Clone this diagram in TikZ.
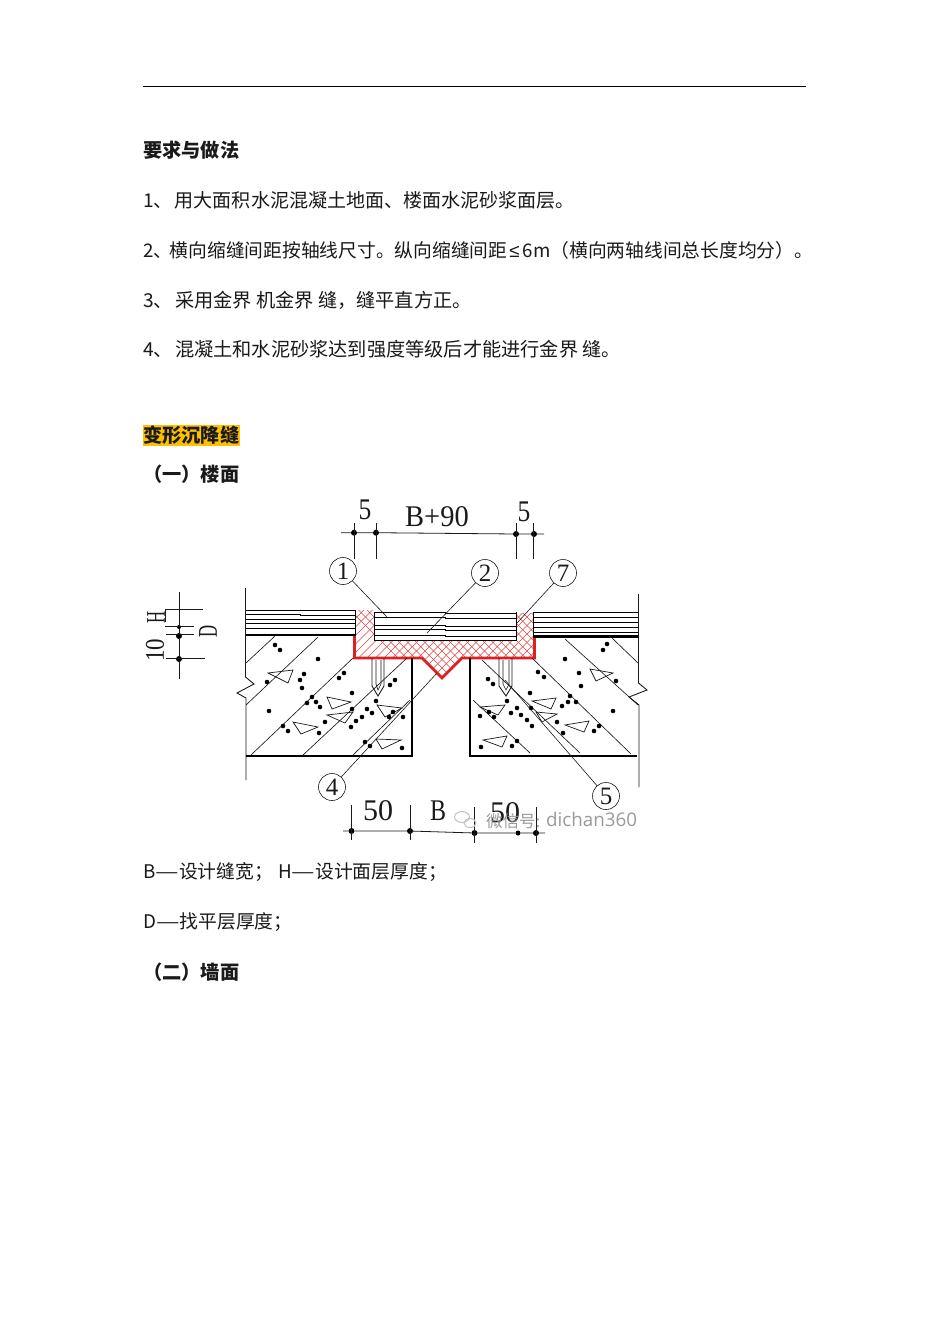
\documentclass[tikz,border=0pt]{standalone}
\usepackage{fontspec}
\setmainfont{Liberation Serif}
\newfontfamily\cjk{Noto Sans CJK SC}
\newfontfamily\lsans{Liberation Sans}
\newfontfamily\osans{Open Sans}
\definecolor{hl}{HTML}{FFC000}
\definecolor{ink}{HTML}{1A1A1A}
\definecolor{redl}{HTML}{E02020}
\definecolor{wm}{HTML}{9A9A9A}
\tikzset{
 txt/.style={anchor=west,inner sep=0pt,font=\cjk\fontsize{19.2}{22}\selectfont,text=ink},
 head/.style={anchor=west,inner sep=0pt,font=\cjk\bfseries\fontsize{19.2}{22}\selectfont,text=ink},
 lab/.style={inner sep=0pt,font=\fontsize{30}{30}\selectfont,text=ink},
 labr/.style={inner sep=0pt,font=\fontsize{27}{27}\selectfont,text=ink,rotate=90},
 num/.style={circle,draw=ink,line width=0.6pt,minimum size=27pt,inner sep=0pt,font=\fontsize{25}{25}\selectfont,text=ink},
 thin/.style={draw=ink,line width=0.65pt},
 thick2/.style={draw=black,line width=2.4pt},
 tri/.style={draw=ink,line width=0.7pt},
 tick/.style={circle,fill=black,inner sep=0pt,minimum size=6pt},
 lead/.style={draw=ink,line width=0.6pt},
 dimln/.style={draw=ink,line width=0.8pt},
}
\newcommand{\blobs}[1]{\foreach \a/\b in {#1} \fill[black] (\a,\b) circle (2.3);}
\newcommand{\ldash}{\scalebox{1.4}[1]{—}}
\begin{document}
\begin{tikzpicture}[x=1pt,y=-1pt]
\useasboundingbox (0,0) rectangle (950,1344);
\fill[white] (0,0) rectangle (950,1344);
% top rule
\coordinate (ruleL) at (143,86); \coordinate (ruleR) at (806,86);
\draw[black,line width=1pt] (ruleL) -- (ruleR);
% texts
\node[head] (t0) at (143,150) {要求与做法};
\node[txt,font=\cjk\fontsize{19.05}{22}\selectfont] (t1) at (143,200) {1、\kern2pt 用大面积水泥混凝土地面、楼面水泥砂浆面层。};
\node[txt,font=\cjk\fontsize{18.75}{22}\selectfont] (t2) at (143,250) {2、\kern-2.4pt 横向缩缝间距按轴线尺寸。纵向缩缝间距\kern2pt{\lsans ≤}\kern3pt 6m（横向两轴线间总长度均分）。};
\node[txt] (t3) at (143,300) {3、\kern2pt 采用金界 机金界 缝，缝平直方正。};
\node[txt] (t4) at (143,349) {4、\kern2pt 混凝土和水泥砂浆达到强度等级后才能进行金界 缝。};
\fill[hl] (143,425) rectangle (240,446);
\node[head] (t5) at (143,435) {变形沉降缝};
\node[head] (t6) at (143,474) {（一）楼面};
\node[txt,font=\cjk\fontsize{18.8}{22}\selectfont] (t7) at (143,872) {B\ldash 设计缝宽；\kern5pt H\ldash 设计面层厚度；};
\node[txt,font=\cjk\fontsize{18.8}{22}\selectfont] (t8) at (143,922) {D\ldash 找平层厚度；};
\node[head] (t9) at (143,972) {（二）墙面};

% hatch
\begin{scope}
\clip (356,610) -- (374,610) -- (374,640) -- (516,640) -- (516,613) -- (533,613) -- (533,636) -- (535,658) -- (462,658) -- (442,678) -- (422,658) -- (354,658) -- (354,635) -- (356,635) -- cycle;
\foreach \k in {0,...,30} {
 \draw[redl!85,line width=0.55pt] (340+\k*8.5,600) -- ++(90,90);
 \draw[redl!85,line width=0.55pt] (340+\k*8.5,600) -- ++(-90,90);
}
\end{scope}
% red outline
\draw[redl,line width=2.6pt,line join=miter] (354.5,636) -- (354.5,658) -- (422,658) -- (442,678) -- (462,658) -- (534.5,658) -- (534.5,637);

% layers
\foreach \y in {610,614.5,619,623,628} \draw[black,line width=0.8pt] (246,\y) -- (300,\y) -- (300,\y+0.8) -- (355,\y+0.8);
\draw[thick2] (246,635) -- (355,635);
\foreach \y in {612,617,622,627,632} \draw[black,line width=0.8pt] (533,\y) -- (586,\y) -- (586,\y+0.8) -- (638,\y+0.8);
\draw[thick2] (533,636.5) -- (638,636.5);
\foreach \y in {612,617,625,629,635} \draw[black,line width=0.8pt] (374,\y) -- (445,\y) -- (445,\y+1) -- (516,\y+1);
\draw[black,line width=0.9pt] (374,612) -- (374,640) -- (516,640) -- (516,612);
\draw[black,line width=0.9pt] (355,610) -- (355,636);
\draw[black,line width=0.9pt] (533,612) -- (533,637);

% outer walls with break
\draw[ink,line width=0.9pt] (245.5,588) -- (245.5,677) -- (254,684) -- (237,693) -- (246,698) -- (246,780);
\draw[ink,line width=0.9pt] (638.5,594) -- (638.5,683) -- (647,690) -- (629,697) -- (639,705) -- (639,787);
% blocks
\draw[black,line width=2pt] (246,756) -- (412,756) -- (412,658);
\draw[black,line width=2pt] (470,658) -- (470,756) -- (637,756);

% concrete hatch left
\draw[thin] (275,636) -- (246,663);
\draw[thin] (318,637) -- (246,705);
\draw[thin] (353,658) -- (251,755);
\draw[thin] (407,658) -- (303,755);
\draw[thin] (410,700) -- (353,755);
% right
\draw[thin] (473,700) -- (530,753);
\draw[thin] (482,660) -- (580,753);
\draw[thin] (532,658) -- (631,754);
\draw[thin] (565,639) -- (638,705);
\draw[thin] (612,638) -- (638,663);

% anchors
\draw[thin,line width=0.9pt] (372,658) -- (372,686) -- (378,696) -- (384,686) -- (384,658);
\draw[thin] (376,660) -- (376,684) -- (378,690) -- (381,684) -- (381,660);
\draw[thin,line width=0.9pt] (499,658) -- (499,686) -- (506,696) -- (512,686) -- (512,658);
\draw[thin] (503,660) -- (503,684) -- (506,690) -- (509,684) -- (509,660);

% triangles
\foreach \p/\q/\r in {{268,673}/{293,670}/{288,683},{327,697}/{351,702}/{332,709},{327,715}/{353,712}/{345,723},{293,722}/{318,727}/{301,734},{377,705}/{402,708}/{385,717},{376,739}/{401,740}/{382,749},{590,669}/{613,673}/{596,681},{532,701}/{556,698}/{551,709},{536,712}/{557,714}/{542,722},{565,725}/{589,721}/{584,732},{483,740}/{507,736}/{502,747},{480,707}/{505,705}/{498,715}}
 \draw[tri] (\p) -- (\q) -- (\r) -- cycle;

% dots
\blobs{275/645,280/650,318/659,267/682,304/674,300/680,302/688,344/673,339/678,352/693,312/697,307/703,316/702,320/707,269/711,283/726,288/731,325/722,319/733,352/709,367/709,372/713,362/717,356/721,351/727,376/701,390/685,395/680,393/712,389/717,403/717,365/742,370/746,402/748}
\blobs{488/679,493/684,538/672,544/677,579/673,581/686,616/681,530/693,507/701,570/696,568/702,562/706,576/702,613/711,489/712,480/716,494/717,511/713,517/708,521/715,527/720,532/726,531/708,557/722,599/726,594/731,563/733,517/741,512/746,481/747,607/644,603/650,565/659}

% circled numbers and leaders
\node[num] (n1) at (343,571) {1};
\node[num] (n2) at (485,573) {2};
\node[num] (n7) at (563,573) {7};
\node[num] (n4) at (332,787) {4};
\node[num] (n5) at (606,796) {5};
\coordinate (e1) at (387,617);
\coordinate (e2) at (427,633);
\coordinate (e7) at (517,623);
\coordinate (e4) at (437,673);
\coordinate (e5) at (505,680);
\draw[lead] (n1) -- (e1);
\draw[lead] (n2) -- (e2);
\draw[lead] (n7) -- (e7);
\draw[lead] (n4) -- (e4);
\draw[lead] (n5) -- (e5);

% top dimension
\node[tick] (a1) at (354,532.7) {};
\node[tick] (a2) at (376,532.7) {};
\node[tick] (a3) at (516,534) {};
\node[tick] (a4) at (534,534) {};
\coordinate (a0) at (341,532.7);
\coordinate (a5) at (544,534);
\draw[dimln] (a0) -- (a1) -- (a2) -- (a3) -- (a4) -- (a5);
\foreach \n/\x in {a1/354,a2/376,a3/516,a4/533.5} {
 \coordinate (\n t) at (\x,523); \coordinate (\n b) at (\x,559);
 \draw[dimln] (\n t) -- (\n b);
}
\node[lab,xscale=0.85] (l5a) at (365,510) {5};
\node[lab,xscale=0.95] (lb90) at (437,517) {B+90};
\node[lab,xscale=0.85] (l5b) at (524,512) {5};

% left dimension
\node[tick,minimum size=4pt] (b1) at (179,627) {};
\node[tick] (b2) at (179,636) {};
\node[tick] (b3) at (179,659) {};
\coordinate (b0) at (179,592);
\coordinate (b4) at (179,679);
\draw[dimln] (b0) -- (b1) -- (b2) -- (b3) -- (b4);
\coordinate (h1a) at (165,622); \coordinate (h1b) at (165,609); \coordinate (h1c) at (203,609);
\draw[dimln] (h1a) -- (h1b) -- (h1c);
\coordinate (h2a) at (165,626); \coordinate (h2b) at (194,626);
\draw[dimln] (h2a) -- (h2b);
\coordinate (h3a) at (166,634.5); \coordinate (h3b) at (194,634.5);
\draw[dimln] (h3a) -- (h3b);
\coordinate (h4a) at (166,658.5); \coordinate (h4b) at (205,658.5);
\draw[dimln] (h4a) -- (h4b);
\node[labr] (lH) at (156,617) {\scalebox{.62}[1]{H}};
\node[labr] (lD) at (208,631) {\scalebox{.62}[1]{D}};
\node[labr] (l10) at (155,650) {\scalebox{.85}[1]{10}};

% bottom dimension
\node[tick] (c1) at (351.5,831) {};
\node[tick] (c2) at (410,831) {};
\node[tick] (c3) at (474.5,833) {};
\node[tick,minimum size=5pt] (c4) at (518,833) {};
\node[tick] (c5) at (536,833) {};
\coordinate (c0) at (343,831);
\coordinate (c6) at (545,833);
\draw[dimln] (c0) -- (c1) -- (c2) -- (c3) -- (c4) -- (c5) -- (c6);
\foreach \n/\x/\t/\b in {c1/351.5/805/840,c2/410/805/840,c3/474.5/807/843,c5/536/807/843} {
 \coordinate (\n t) at (\x,\t); \coordinate (\n b) at (\x,\b);
 \draw[dimln] (\n t) -- (\n b);
}
\node[lab] (l50a) at (378,811) {50};
\node[lab,xscale=0.8] (lB) at (438,811) {B};
\node[lab] (l50b) at (505,813) {50};

% watermark
\draw[wm!60,line width=1pt] (462,817) ellipse (7.5 and 5.5);
\draw[wm!60,line width=1pt] (470,823) ellipse (6 and 4.5);
\node[anchor=west,inner sep=0pt,text=wm,font=\cjk\fontsize{16.5}{18}\selectfont] (w1) at (486,821) {微信号:};
\node[anchor=west,inner sep=0pt,text=wm,font=\osans\fontsize{18.8}{20}\selectfont] (w2) at (546,819) {dichan360};
\end{tikzpicture}
\end{document}
